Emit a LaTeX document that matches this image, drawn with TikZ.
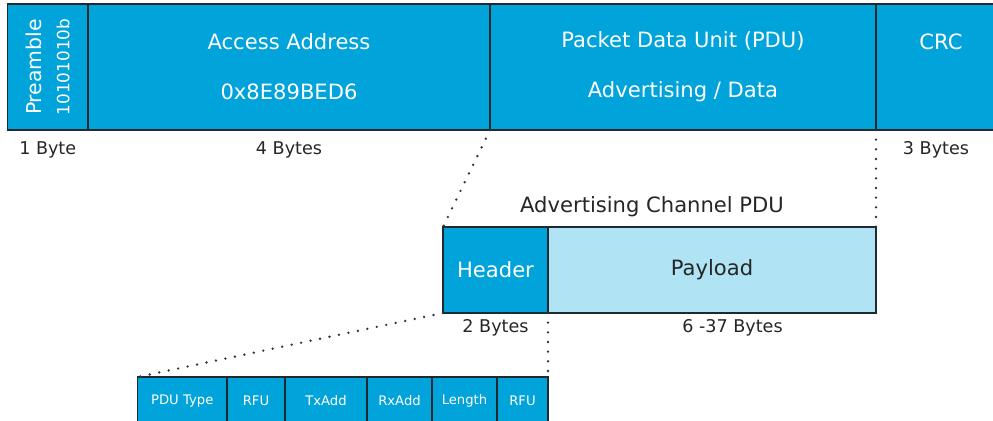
\documentclass[tikz,border=0pt]{standalone}
\usepackage{fontspec}
\setmainfont{DejaVu Sans}
\definecolor{bleblue}{HTML}{00A3DA}
\definecolor{blelight}{HTML}{B0E4F4}
\definecolor{edge}{HTML}{1E2A30}
\usetikzlibrary{positioning}

\begin{document}
\begin{tikzpicture}
\tikzset{
  field/.style={draw=edge, line width=0.8pt, fill=bleblue, text=white, inner sep=0pt, outer sep=0pt, align=center, font=\fontsize{12}{28.5}\selectfont},
  bits/.style={draw=edge, line width=0.8pt, fill=bleblue, text=white, inner sep=0pt, outer sep=0pt, minimum height=0.96cm, font=\fontsize{7.5}{9}\selectfont},
  size/.style={font=\fontsize{10}{12}\selectfont, text=black!85},
  zoomline/.style={draw=black!80, line width=1.5pt, dash pattern=on 0pt off 5.5pt, line cap=round},
}
\useasboundingbox (0,0) rectangle (19.86,8.4);
\clip (0,0) rectangle (19.86,8.4);

% Link layer packet
\node[field, minimum width=1.61cm, minimum height=2.52cm, anchor=south west] (pre) at (0.15,5.8) {};
\node[rotate=90, text=white, align=center, font=\fontsize{11.6}{16}\selectfont] (pretxt) at (pre.center) {Preamble\\{\fontsize{9.6}{16}\selectfont 10101010b}};
\node[field, minimum width=8.04cm, minimum height=2.52cm, right=0pt of pre] (acc) {Access Address\\0x8E89BED6};
\node[field, minimum width=7.72cm, minimum height=2.52cm, right=0pt of acc] (pdu) {Packet Data Unit (PDU)\\Advertising / Data};
\node[field, minimum width=2.6cm, minimum height=2.52cm, right=0pt of pdu] (crc) {CRC\\\mbox{}};

\node[size] (preb) at ([yshift=-0.4cm]pre.south) {1 Byte};
\node[size] (accb) at ([yshift=-0.4cm]acc.south) {4 Bytes};
\node[size] (crcb) at (18.72,5.4) {3 Bytes};

% Advertising channel PDU
\node[font=\fontsize{12}{14}\selectfont, text=black!85] (advt) at (13.04,4.26) {Advertising Channel PDU};
\node[field, minimum width=2.1cm, minimum height=1.72cm, anchor=south west] (hdr) at (8.86,2.14) {Header};
\node[field, fill=blelight, text=black!85, minimum width=6.56cm, minimum height=1.72cm, right=0pt of hdr] (pay) {Payload};

\node[size] (hdrb) at ([yshift=-0.3cm]hdr.south) {2 Bytes};
\node[size] (payb) at (14.65,1.84) {6 -37 Bytes};

% Header bits
\node[bits, minimum width=1.79cm, anchor=north west] (pdutype) at (2.75,0.86) {PDU Type};
\node[bits, minimum width=1.16cm, right=0pt of pdutype] (rfua) {RFU};
\node[bits, minimum width=1.64cm, right=0pt of rfua] (txadd) {TxAdd};
\node[bits, minimum width=1.30cm, right=0pt of txadd] (rxadd) {RxAdd};
\node[bits, minimum width=1.30cm, right=0pt of rxadd] (len) {Length};
\node[bits, minimum width=1.02cm, right=0pt of len] (rfub) {RFU};

% Zoom lines
\draw[zoomline] (pdu.south west) -- (hdr.north west);
\draw[zoomline] (pdu.south east) -- (pay.north east);
\draw[zoomline] (hdr.south west) -- (pdutype.north west);
\draw[zoomline] (hdr.south east) -- (rfub.north east);

\end{tikzpicture}
\end{document}
